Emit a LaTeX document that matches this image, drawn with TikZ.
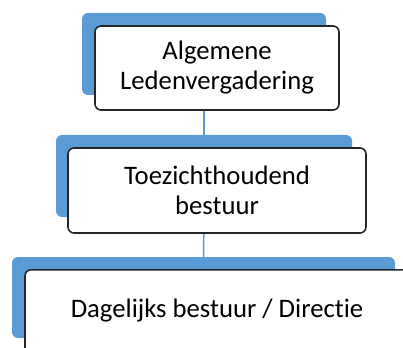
\documentclass[tikz,border=0pt]{standalone}
\usepackage{fontspec}
\newfontfamily\boxfont[Ligatures=NoCommon]{Carlito}
\usepackage{xcolor}
\definecolor{orgblue}{HTML}{5B9BD5}

\begin{document}
\begin{tikzpicture}[x=1pt, y=-1pt,
	back/.style={fill=orgblue, rounded corners=6pt, inner sep=0pt},
	front/.style={draw=black!85, line width=1.6pt, fill=white, rounded corners=6pt,
		align=center, inner sep=0pt, font=\boxfont\fontsize{26.7}{30}\selectfont},
	link/.style={draw=orgblue, line width=1.5pt}]
	\useasboundingbox (0,0) rectangle (403,347);
	\clip (0,0) rectangle (403,347);
	
	\node[back, minimum width=244pt, minimum height=82pt] (algBack) at (204,54) {};
	\node[back, minimum width=296pt, minimum height=82pt] (toeBack) at (204,176) {};
	\node[back, minimum width=383pt, minimum height=81pt] (dagBack) at (203.5,297.5) {};
	
	\draw[link] (algBack.south) -- (toeBack.north);
	\draw[link] (toeBack.south) -- (dagBack.north);
	
	\node[front, minimum width=244pt, minimum height=84pt] (alg) at (217,68) {Algemene\\Ledenvergadering};
	\node[front, minimum width=298pt, minimum height=85pt] (toe) at (217,190.5) {Toezichthoudend\\bestuur};
	\node[front, minimum width=384pt, anchor=north, text height=48pt, text depth=60pt] (dag) at (217,269) {Dagelijks bestuur / Directie};
\end{tikzpicture}
\end{document}
